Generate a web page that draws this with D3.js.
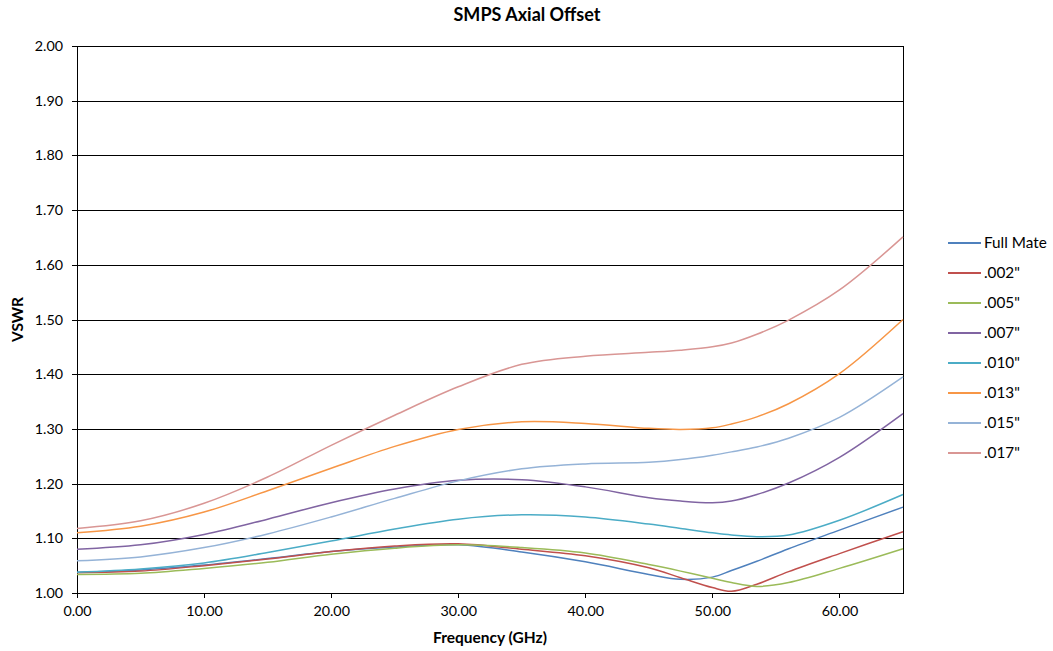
<!DOCTYPE html>
<html lang="en">
  <head>
    <meta charset="utf-8">
    <script src="https://cdnjs.cloudflare.com/ajax/libs/d3/7.8.5/d3.min.js"></script>
    <style>
      body { margin: 0; background: #fff; }
      text { font-family: Lato, "Open Sans", sans-serif; fill: #000; }
      .grid line { stroke: #000; stroke-width: 1; shape-rendering: crispEdges; }
      .axis path, .axis line { stroke: #000; shape-rendering: crispEdges; }
      .axis text { font-size: 14.3px; }
      .series path { fill: none; stroke-width: 1.5; }
    </style>
  </head>
  <body>
  <script>
  var width = 1053,
      height = 651;

  // frequency points (GHz)
  var freq = [0, 5, 10, 15, 20, 25, 30, 35, 40, 45, 47.5, 50, 51.5, 53.5, 56, 60, 65];

  var seriesNames = ['Full Mate', '.002"', '.005"', '.007"', '.010"', '.013"', '.015"', '.017"'];
  var seriesColors = ['#4F81BD', '#C0504D', '#9BBB59', '#8064A2', '#4BACC6', '#F79646', '#95B3D7', '#D99694'];

  var fullMate = [1.038, 1.042, 1.051, 1.063, 1.076, 1.084, 1.088, 1.075, 1.057, 1.034, 1.025, 1.029, 1.041, 1.058, 1.081, 1.115, 1.157];
  var off002   = [1.037, 1.040, 1.050, 1.062, 1.076, 1.086, 1.090, 1.080, 1.068, 1.046, 1.028, 1.010, 1.003, 1.016, 1.039, 1.072, 1.112];
  var off005   = [1.034, 1.036, 1.045, 1.056, 1.071, 1.082, 1.088, 1.083, 1.073, 1.052, 1.040, 1.027, 1.019, 1.012, 1.019, 1.045, 1.081];
  var off007   = [1.080, 1.088, 1.107, 1.135, 1.165, 1.190, 1.206, 1.207, 1.194, 1.174, 1.168, 1.165, 1.168, 1.180, 1.201, 1.248, 1.328];
  var off010   = [1.038, 1.044, 1.055, 1.074, 1.095, 1.117, 1.135, 1.143, 1.139, 1.126, 1.118, 1.110, 1.106, 1.103, 1.106, 1.133, 1.180];
  var off013   = [1.110, 1.122, 1.148, 1.187, 1.228, 1.268, 1.299, 1.313, 1.310, 1.301, 1.299, 1.302, 1.309, 1.322, 1.346, 1.401, 1.500];
  var off015   = [1.059, 1.066, 1.083, 1.108, 1.139, 1.173, 1.205, 1.227, 1.236, 1.239, 1.244, 1.252, 1.258, 1.267, 1.283, 1.321, 1.395];
  var off017   = [1.118, 1.132, 1.164, 1.212, 1.270, 1.325, 1.377, 1.418, 1.433, 1.440, 1.444, 1.450, 1.457, 1.473, 1.499, 1.554, 1.651];

  var allSeries = [fullMate, off002, off005, off007, off010, off013, off015, off017];

  var xTicks = [0, 10, 20, 30, 40, 50, 60];
  var yTicks = [1.0, 1.1, 1.2, 1.3, 1.4, 1.5, 1.6, 1.7, 1.8, 1.9, 2.0];

  var margin = {left: 77, right: 150, top: 46, bottom: 58};

  var svg = d3.select('body')
    .append('svg')
    .attr('width', width)
    .attr('height', height);

  var x = d3.scaleLinear()
    .domain([0, 65])
    .range([margin.left, width - margin.right]);

  var y = d3.scaleLinear()
    .domain([1.0, 2.0])
    .range([height - margin.bottom, margin.top]);

  // horizontal gridlines
  svg.append('g')
    .attr('class', 'grid')
    .selectAll('line')
    .data(yTicks)
    .enter().append('line')
      .attr('x1', x(0))
      .attr('x2', x(65))
      .attr('y1', d => Math.round(y(d)) + 0.5)
      .attr('y2', d => Math.round(y(d)) + 0.5);

  // right border of the plot area
  svg.append('line')
    .attr('x1', Math.round(x(65)) + 0.5)
    .attr('x2', Math.round(x(65)) + 0.5)
    .attr('y1', y(2.0))
    .attr('y2', y(1.0))
    .attr('stroke', '#000')
    .style('shape-rendering', 'crispEdges');

  svg.append('g')
    .attr('class', 'axis')
    .attr('transform', 'translate(0,' + y(1.0) + ')')
    .call(d3.axisBottom(x).tickValues(xTicks).tickSize(5).tickSizeOuter(0).tickPadding(8)
      .tickFormat(d3.format('.2f')));

  svg.append('g')
    .attr('class', 'axis')
    .attr('transform', 'translate(' + x(0) + ',0)')
    .call(d3.axisLeft(y).tickValues(yTicks).tickSize(5).tickSizeOuter(0).tickPadding(9)
      .tickFormat(d3.format('.2f')));

  var line = d3.line()
    .curve(d3.curveCatmullRom.alpha(0.5))
    .x((d, i) => x(freq[i]))
    .y(d => y(d));

  svg.append('g')
    .attr('class', 'series')
    .selectAll('path')
    .data(allSeries)
    .enter().append('path')
      .attr('stroke', (d, i) => seriesColors[i])
      .attr('d', line);

  // titles
  svg.append('text')
    .attr('x', 527)
    .attr('y', 21)
    .attr('text-anchor', 'middle')
    .style('font-size', '18px')
    .style('font-weight', 'bold')
    .text('SMPS Axial Offset');

  svg.append('text')
    .attr('x', (x(0) + x(65)) / 2)
    .attr('y', 643)
    .attr('text-anchor', 'middle')
    .style('font-size', '15.5px')
    .style('font-weight', 'bold')
    .text('Frequency (GHz)');

  svg.append('text')
    .attr('transform', 'translate(23,' + ((y(1) + y(2)) / 2) + ') rotate(-90)')
    .attr('text-anchor', 'middle')
    .style('font-size', '15.5px')
    .style('font-weight', 'bold')
    .text('VSWR');

  // legend
  var legend = svg.append('g')
    .selectAll('g')
    .data(seriesNames)
    .enter().append('g')
      .attr('transform', (d, i) => 'translate(948,' + (243 + i * 30) + ')');

  legend.append('line')
    .attr('x1', 0)
    .attr('x2', 33)
    .attr('stroke-width', 2)
    .attr('stroke', (d, i) => seriesColors[i]);

  legend.append('text')
    .attr('x', 36)
    .attr('dy', '0.35em')
    .style('font-size', '15.3px')
    .text(d => d);
  </script>
  </body>
</html>
